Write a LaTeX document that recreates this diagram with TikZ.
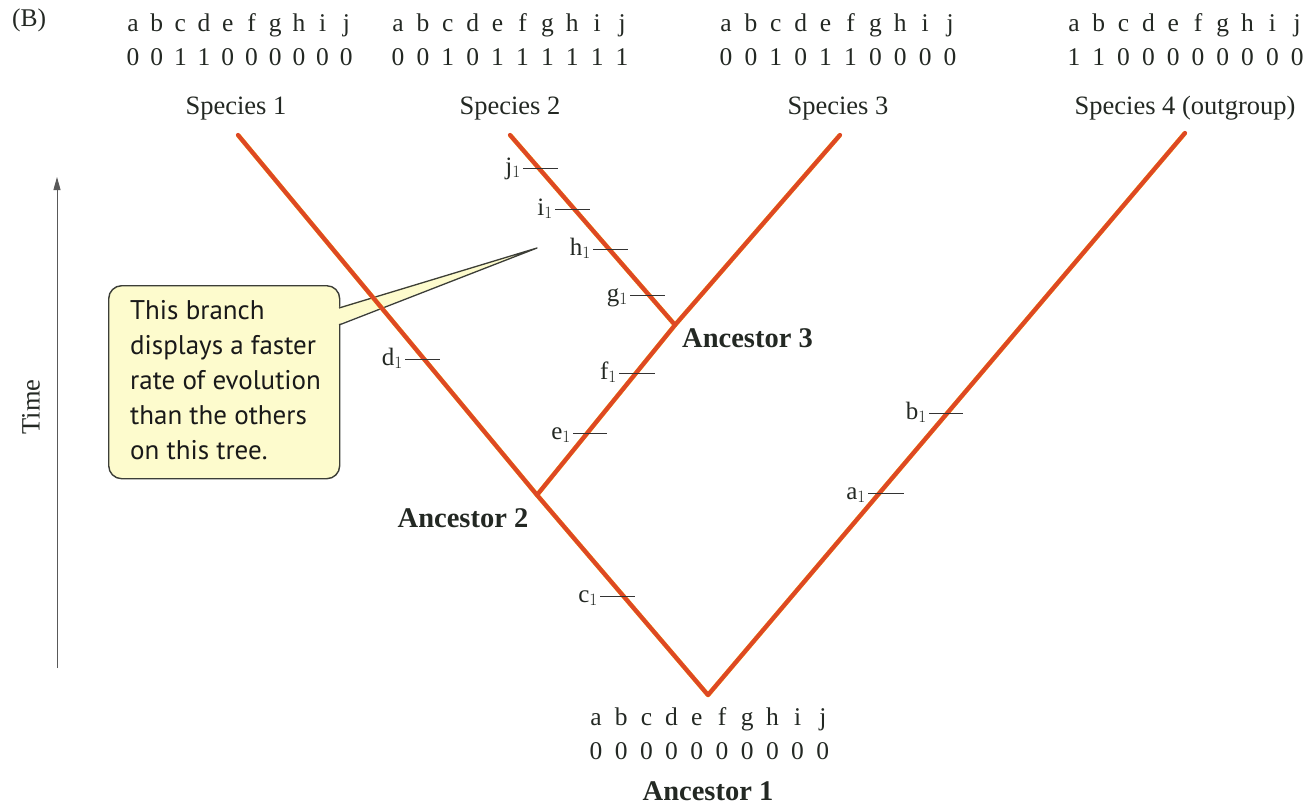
\documentclass[tikz,border=0pt]{standalone}
\usepackage{fontspec}
\setmainfont{Liberation Serif}
\newfontfamily\callfont{PT Sans}
\usetikzlibrary{arrows.meta}
\definecolor{branchred}{RGB}{222,72,36}
\definecolor{branchyel}{RGB}{250,205,40}
\definecolor{callfill}{RGB}{253,251,205}
\definecolor{callline}{RGB}{60,62,55}
\definecolor{txt}{RGB}{35,40,35}
\tikzset{
  chr/.style={font=\fontsize{25.5}{28}\selectfont, inner sep=0pt, anchor=base, text=txt},
  splab/.style={font=\fontsize{26.5}{30}\selectfont, inner sep=0pt, anchor=base, text=txt},
  anclab/.style={font=\bfseries\fontsize{28.5}{32}\selectfont, inner sep=0pt, text=txt},
  branch/.style={line width=4.2pt, draw=branchred, line join=round, line cap=round},
  fringe/.style={line width=4.6pt, draw=branchyel, line join=round, xshift=1.3pt, yshift=-1.3pt},
  tickline/.style={line width=1pt, draw=black!80},
  ticklab/.style={font=\fontsize{25}{28}\selectfont, inner sep=0pt, anchor=base east, text=txt},
  callout/.style={draw=callline, line width=1.4pt, fill=callfill, rounded corners=13pt},
  calltext/.style={font=\callfont\fontsize{27}{35}\selectfont, align=left, inner sep=0pt, anchor=north west, text=black!90},
}
\newcommand{\chartab}[5]{%
  \foreach \l [count=\k] in {a,b,c,d,e,f,g,h,i,j}{
    \node[chr] (#1l\k) at ({#2+(\k-1)*#3}, #4) {\l};
  }
  \foreach \d [count=\k] in {#5}{
    \node[chr] (#1d\k) at ({#2+(\k-1)*#3}, #4+34) {\d};
  }
}
\begin{document}
\begin{tikzpicture}[x=1pt,y=-1pt]
\useasboundingbox (0,0) rectangle (1316,804);

% panel letter
\node[chr, anchor=base west] (panel) at (12,26) {(B)};

% character tables
\chartab{sa}{133}{23.7}{31}{0,0,1,1,0,0,0,0,0,0}
\chartab{sb}{398}{24.9}{31}{0,0,1,0,1,1,1,1,1,1}
\chartab{sc}{726}{24.9}{31}{0,0,1,0,1,1,0,0,0,0}
\chartab{sd}{1074}{24.8}{31}{1,1,0,0,0,0,0,0,0,0}
\chartab{an}{596}{25.2}{725}{0,0,0,0,0,0,0,0,0,0}

% species labels
\node[splab] (sp1) at (236,114) {Species 1};
\node[splab] (sp2) at (510,114) {Species 2};
\node[splab] (sp3) at (838,114) {Species 3};
\node[splab] (sp4) at (1185,114) {Species 4 (outgroup)};

% tree points
\coordinate (t1) at (238,135);
\coordinate (t2) at (510,135);
\coordinate (t3) at (840,135);
\coordinate (t4) at (1185,133);
\coordinate (a1) at (708,695);
\coordinate (a2) at (537,495);
\coordinate (a3) at (675,325);

% time axis
\coordinate (tbot) at (57,668);
\coordinate (ttop) at (57,177);
\draw[-{Triangle[length=13pt,width=7pt]}, line width=0.9pt, draw=black!65] (tbot) -- (ttop);
\node[splab, anchor=center, rotate=90] (time) at (31,407) {Time};

% callout
\node[callout, anchor=north west, minimum width=231pt, minimum height=193pt] (box) at (108,285) {};
\coordinate (wtop) at (339,308);
\coordinate (wbot) at (339,325);
\coordinate (wtip) at (537,248);
\fill[callfill] ([xshift=-3pt]wtop) -- (wtip) -- ([xshift=-3pt]wbot) -- cycle;
\draw[callline, line width=1.3pt, line join=round] (wtop) -- (wtip) -- (wbot);
\node[calltext] (ctext) at (130,300) {This branch\\displays a faster\\rate of evolution\\than the others\\on this tree.};

% branches
\draw[fringe] (t1) -- (a2) -- (a1) -- (t4);
\draw[fringe] (a2) -- (a3) -- (t3);
\draw[fringe] (a3) -- (t2);
\draw[branch] (t1) -- (a2) -- (a1) -- (t4);
\draw[branch] (a2) -- (a3) -- (t3);
\draw[branch] (a3) -- (t2);

% ancestor labels
\node[anclab, anchor=base] (anc2) at (463,527) {Ancestor 2};
\node[anclab, anchor=base west] (anc3) at (682,347) {Ancestor 3};
\node[anclab, anchor=base] (anc1) at (708,800) {Ancestor 1};

% character change ticks
\foreach \n/\y/\xa/\xb in {j/168/523/558, i/209/555/590, h/249/593/628, g/295/630/665,
  f/373/619/655, e/433/573/607, d/359/405/440, c/596/600/635, a/493/868/904, b/413/929/963}{
  \coordinate (\n L) at (\xa,\y);
  \coordinate (\n R) at (\xb,\y);
  \draw[tickline] (\n L) -- (\n R);
  \node[ticklab] (\n lab) at ([xshift=-2pt, yshift=-6pt]\n L) {\n$_1$};
}
\end{tikzpicture}
\end{document}
